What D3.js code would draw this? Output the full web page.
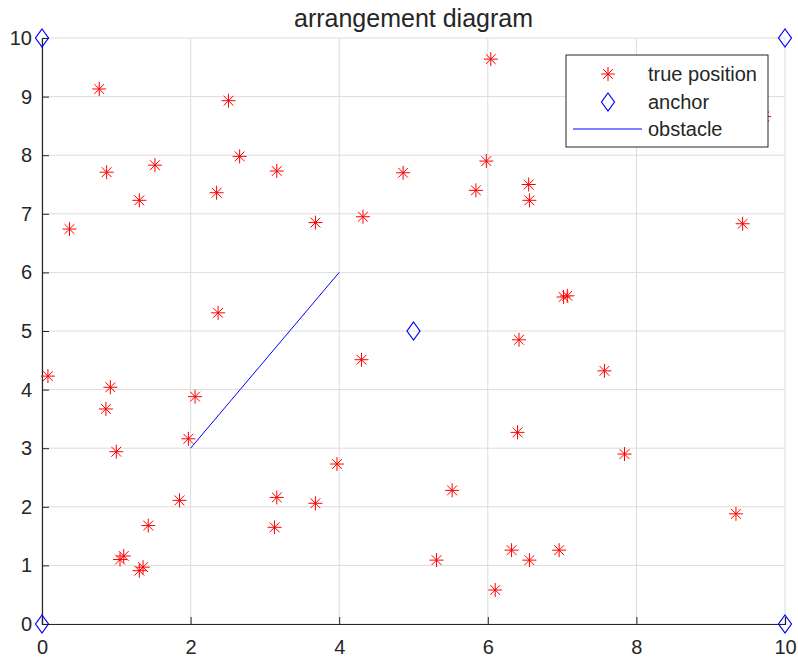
<!DOCTYPE html>
<html>
<head>
<meta charset="utf-8">
<script src="https://cdn.jsdelivr.net/npm/d3@7"></script>
<style>
  body { margin: 0; background: #fff; }
  text { font-family: "Liberation Sans", Arial, sans-serif; fill: #262626; }
</style>
</head>
<body>
<div id="chart"></div>
<script>
// true node positions
var nodeX = [0.77, 0.87, 0.37, 1.31, 1.52, 2.51, 2.35, 2.66, 3.16, 3.68,
             2.37, 4.32, 4.86, 6.04, 5.98, 5.84, 6.55, 6.56, 9.43, 7.02,
             7.07, 9.72, 0.08, 0.92, 0.86, 1.00, 2.06, 1.97, 1.85, 1.43,
             1.05, 1.10, 1.31, 1.36, 3.16, 3.13, 3.68, 3.97, 4.30, 6.42,
             7.57, 6.40, 7.84, 5.52, 9.34, 6.32, 6.56, 6.96, 5.31, 6.10];
var nodeY = [9.13, 7.71, 6.74, 7.23, 7.83, 8.93, 7.36, 7.98, 7.73, 6.85,
             5.31, 6.95, 7.70, 9.64, 7.90, 7.40, 7.50, 7.23, 6.83, 5.58,
             5.60, 8.66, 4.23, 4.04, 3.67, 2.94, 3.88, 3.16, 2.11, 1.68,
             1.10, 1.16, 0.91, 0.97, 2.16, 1.65, 2.06, 2.73, 4.51, 4.85,
             4.32, 3.27, 2.90, 2.28, 1.88, 1.26, 1.09, 1.26, 1.09, 0.58];

// anchors
var anchorX = [0, 0, 10, 10, 5];
var anchorY = [0, 10, 0, 10, 5];

// obstacle segment
var obstacleX = [2, 4];
var obstacleY = [3, 6];

var xTicks = [0, 2, 4, 6, 8, 10];
var yTicks = [0, 1, 2, 3, 4, 5, 6, 7, 8, 9, 10];
var legendLabels = ["true position", "anchor", "obstacle"];

var width = 798, height = 661;
var margin = {left: 42, right: 13, top: 38, bottom: 37};

var svg = d3.select("#chart").append("svg")
  .attr("width", width)
  .attr("height", height);

var x = d3.scaleLinear().domain([0, 10]).range([margin.left, width - margin.right]);
var y = d3.scaleLinear().domain([0, 10]).range([height - margin.bottom, margin.top]);

// grid
var grid = svg.append("g").attr("class", "grid");
grid.selectAll(".gx").data(xTicks).enter().append("line")
  .attr("x1", function(d) { return x(d); })
  .attr("x2", function(d) { return x(d); })
  .attr("y1", y(0)).attr("y2", y(10))
  .attr("stroke", "#dcdcdc").attr("stroke-width", 1);
grid.selectAll(".gy").data(yTicks).enter().append("line")
  .attr("y1", function(d) { return y(d); })
  .attr("y2", function(d) { return y(d); })
  .attr("x1", x(0)).attr("x2", x(10))
  .attr("stroke", "#dcdcdc").attr("stroke-width", 1);

// axes (ticks inside like matlab)
var xAxis = d3.axisBottom(x).tickValues(xTicks).tickSize(-7).tickPadding(12);
var yAxis = d3.axisLeft(y).tickValues(yTicks).tickSize(-7).tickPadding(10);

var gx = svg.append("g")
  .attr("transform", "translate(0," + y(0) + ")")
  .call(xAxis);
var gy = svg.append("g")
  .attr("transform", "translate(" + x(0) + ",0)")
  .call(yAxis);

[gx, gy].forEach(function(g) {
  g.select(".domain").attr("stroke", "#262626").attr("stroke-width", 1.2);
  g.selectAll(".tick line").attr("stroke", "#262626");
  g.selectAll(".tick text")
    .attr("font-size", 20)
    .attr("font-family", "Liberation Sans, Arial, sans-serif")
    .attr("fill", "#262626");
});
gx.selectAll(".tick text").attr("dy", "0.9em");

// obstacle
var line = d3.line()
  .x(function(d) { return x(d[0]); })
  .y(function(d) { return y(d[1]); });
svg.append("path")
  .datum(d3.zip(obstacleX, obstacleY))
  .attr("d", line)
  .attr("fill", "none")
  .attr("stroke", "#0000ff")
  .attr("stroke-width", 1);

// star marker path
function starPath(r) {
  var k = r * 0.7;
  return "M" + (-r) + ",0L" + r + ",0M0," + (-r) + "L0," + r +
    "M" + (-k) + "," + (-k) + "L" + k + "," + k +
    "M" + (-k) + "," + k + "L" + k + "," + (-k);
}
function diamondPath(w, h) {
  return "M0," + (-h) + "L" + w + ",0L0," + h + "L" + (-w) + ",0Z";
}

svg.append("g").selectAll("path")
  .data(d3.zip(nodeX, nodeY))
  .enter().append("path")
  .attr("transform", function(d) { return "translate(" + x(d[0]) + "," + y(d[1]) + ")"; })
  .attr("d", starPath(7))
  .attr("fill", "none")
  .attr("stroke", "#ff0000")
  .attr("stroke-width", 1);

svg.append("g").selectAll("path")
  .data(d3.zip(anchorX, anchorY))
  .enter().append("path")
  .attr("transform", function(d) { return "translate(" + x(d[0]) + "," + y(d[1]) + ")"; })
  .attr("d", diamondPath(6.5, 9))
  .attr("fill", "none")
  .attr("stroke", "#0000ff")
  .attr("stroke-width", 1.2);

// title
svg.append("text")
  .attr("x", (x(0) + x(10)) / 2)
  .attr("y", 27)
  .attr("text-anchor", "middle")
  .attr("font-size", 25)
  .text("arrangement diagram");

// legend
var lg = svg.append("g").attr("transform", "translate(566,55)");
lg.append("rect")
  .attr("width", 202).attr("height", 92)
  .attr("fill", "#fff")
  .attr("stroke", "#262626")
  .attr("stroke-width", 1);
var rowY = [19, 47, 74];
lg.append("path")
  .attr("transform", "translate(42," + rowY[0] + ")")
  .attr("d", starPath(7))
  .attr("fill", "none").attr("stroke", "#ff0000");
lg.append("path")
  .attr("transform", "translate(42," + rowY[1] + ")")
  .attr("d", diamondPath(6.5, 9))
  .attr("fill", "none").attr("stroke", "#0000ff").attr("stroke-width", 1.2);
lg.append("line")
  .attr("x1", 7).attr("x2", 76)
  .attr("y1", rowY[2]).attr("y2", rowY[2])
  .attr("stroke", "#0000ff");
lg.selectAll(".lbl").data(legendLabels).enter().append("text")
  .attr("x", 82)
  .attr("y", function(d, i) { return rowY[i]; })
  .attr("dy", "0.35em")
  .attr("font-size", 20)
  .attr("fill", "#000")
  .text(function(d) { return d; });
</script>
</body>
</html>
